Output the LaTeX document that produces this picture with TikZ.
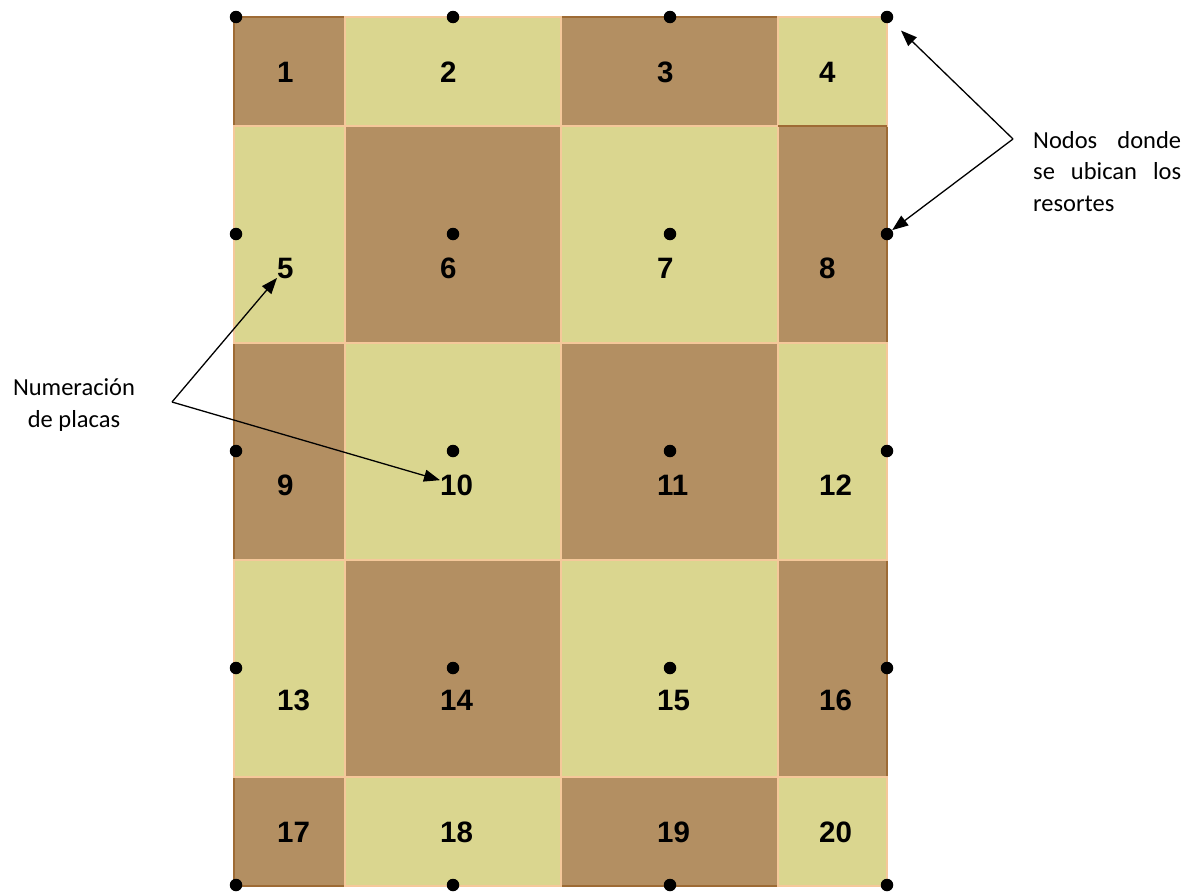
\documentclass[tikz,border=0pt]{standalone}
\usepackage{fontspec}
\setmainfont{Liberation Sans}
\newfontfamily\notefont{Carlito}
\usetikzlibrary{arrows.meta}
\definecolor{darkcell}{HTML}{B38F62}
\definecolor{lightcell}{HTML}{DAD68F}
\definecolor{darkedge}{HTML}{9E6B35}
\definecolor{lightedge}{HTML}{F5C89A}
\begin{document}
\begin{tikzpicture}[x=1pt,y=-1pt,
  darkbox/.style={fill=darkcell,draw=darkedge,line width=1.2pt},
  lightbox/.style={fill=lightcell,draw=lightedge,line width=1.2pt},
  num/.style={font=\fontsize{29.5}{31}\selectfont\bfseries,anchor=west,inner sep=0pt},
  springdot/.style={circle,fill=black,inner sep=0pt,minimum size=12.5pt},
  note/.style={font=\notefont\fontsize{24.5}{31.5}\selectfont,inner sep=0pt},
  pointer/.style={-{Triangle[length=16pt,width=12pt]},line width=1.3pt}]
\useasboundingbox (0,0) rectangle (1193,894);
% dark cells
\foreach \i/\xa/\xb in {0/234/345,1/345/561,2/561/778,3/778/887}{
  \foreach \j/\ya/\yb in {0/17/126,1/126/343,2/343/560,3/560/777,4/777/886}{
    \pgfmathtruncatemacro{\parity}{mod(\i+\j,2)}
    \ifnum\parity=0
      \path[darkbox] (\xa,\ya) rectangle (\xb,\yb);
    \fi
  }
}
% light cells
\foreach \i/\xa/\xb in {0/234/345,1/345/561,2/561/778,3/778/887}{
  \foreach \j/\ya/\yb in {0/17/126,1/126/343,2/343/560,3/560/777,4/777/886}{
    \pgfmathtruncatemacro{\parity}{mod(\i+\j,2)}
    \ifnum\parity=1
      \path[lightbox] (\xa,\ya) rectangle (\xb,\yb);
    \fi
  }
}
\draw[darkedge,line width=1.2pt] (778,126) -- (887,126);
% plate numbers
\foreach \c/\x in {1/277,2/440,3/657,4/819}{
  \foreach \r/\y in {0/72,1/268,2/485,3/700,4/832}{
    \pgfmathtruncatemacro{\n}{4*\r+\c}
    \node[num] (l\n) at (\x,\y) {\n};
  }
}
% spring nodes
\foreach \i/\x in {0/236,1/453,2/670,3/887}{
  \foreach \j/\y in {0/17,1/234,2/451,3/668,4/885}{
    \node[springdot] (d-\i-\j) at (\x,\y) {};
  }
}
% annotations
\node[note,align=center] (placas) at (74,405) {Numeración\\de placas};
\node[note,align=left,anchor=north west] (resortes) at (1033,131)
  {\makebox[148pt][s]{Nodos donde}\\\makebox[148pt][s]{se ubican los}\\resortes};
\coordinate (vl) at (172,402);
\coordinate (vr) at (1013,139);
\draw[pointer] (vl) -- (l5);
\draw[pointer] (vl) -- (l10);
\draw[pointer,shorten >=13pt] (vr) -- (d-3-0);
\draw[pointer] (vr) -- (d-3-1);
\end{tikzpicture}
\end{document}
